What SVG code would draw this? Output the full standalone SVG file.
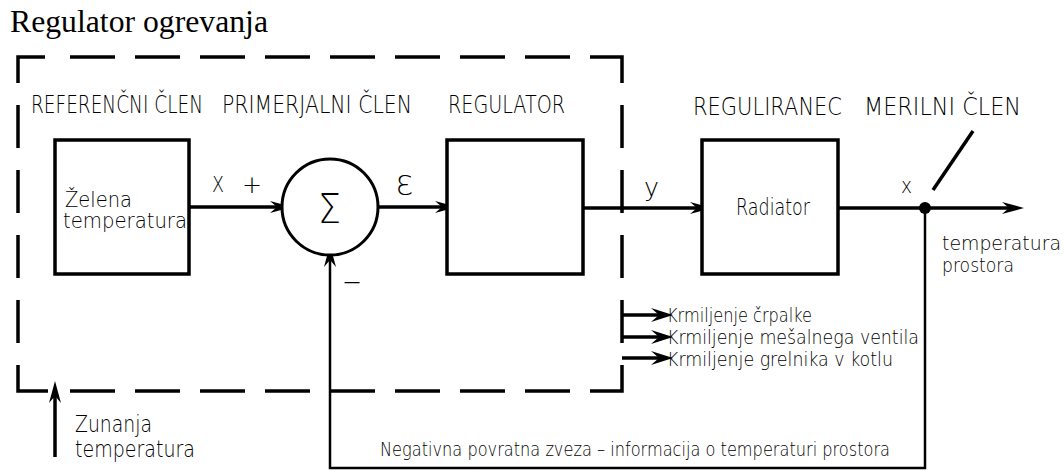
<svg xmlns="http://www.w3.org/2000/svg" width="1064" height="470" viewBox="0 0 1064 470">
<defs>
<style>
.cad{font-family:"DejaVu Sans","Liberation Sans",sans-serif;font-weight:200;fill:#000}
.box{fill:#fff;stroke:#000;stroke-width:3.5}
.ln{fill:none;stroke:#000;stroke-width:3.5}
.fb{fill:none;stroke:#000;stroke-width:2.5}
.dash{fill:none;stroke:#000;stroke-width:3.5;stroke-linecap:butt;stroke-linejoin:miter}
</style>
<marker id="ah" viewBox="-23 -7 24 14" refX="-10" refY="0" markerWidth="24" markerHeight="14" markerUnits="userSpaceOnUse" orient="auto">
<path d="M0,0 L-22,-6 L-15,0 L-22,6 Z" fill="#000"/>
</marker>
<marker id="ahb" viewBox="-23 -8 24 16" refX="-10" refY="0" markerWidth="24" markerHeight="16" markerUnits="userSpaceOnUse" orient="auto">
<path d="M0,0 L-22,-7 L-14,0 L-22,7 Z" fill="#000"/>
</marker>
</defs>
<rect width="1064" height="470" fill="#fff"/>
<text x="10" y="32" font-family="'Liberation Serif','Times New Roman',serif" font-size="31" textLength="258" lengthAdjust="spacingAndGlyphs">Regulator ogrevanja</text>

<g id="regulator-boundary">
<path class="dash" d="M18,83 V57 H45 M70,57 H115 M135,57 H180 M200,57 H245 M265,57 H310 M330,57 H375 M395,57 H440 M460,57 H505 M525,57 H570 M590,57 H622 V83 M622,105 V148 M622,170 V213 M622,235 V278 M622,300 V343 M622,365 V391 H590 M570,391 H525 M505,391 H460 M440,391 H395 M375,391 H330 M310,391 H265 M245,391 H200 M180,391 H135 M115,391 H70 M48,391 H18 V365 M18,343 V300 M18,278 V235 M18,213 V170 M18,148 V105"/>
</g>

<g id="labels">
<text class="cad" x="31" y="113" font-size="25" textLength="172" lengthAdjust="spacingAndGlyphs">REFERENČNI ČLEN</text>
<text class="cad" x="222" y="113" font-size="25" textLength="190" lengthAdjust="spacingAndGlyphs">PRIMERJALNI ČLEN</text>
<text class="cad" x="448" y="113" font-size="25" textLength="117" lengthAdjust="spacingAndGlyphs">REGULATOR</text>
<text class="cad" x="693" y="115" font-size="25" textLength="149" lengthAdjust="spacingAndGlyphs">REGULIRANEC</text>
<text class="cad" x="864" y="115" font-size="25" textLength="157" lengthAdjust="spacingAndGlyphs">MERILNI ČLEN</text>
</g>

<g id="connectors">
<path class="ln" d="M189,207 H282" marker-end="url(#ah)"/>
<path class="ln" d="M378,207 H447" marker-end="url(#ah)"/>
<path class="ln" d="M583,208 H702" marker-end="url(#ah)"/>
<path class="ln" d="M838,208 H1014" marker-end="url(#ah)"/>
<path class="fb" d="M925,208 V468 H330 V255" marker-end="url(#ah)"/>
<path class="ln" d="M933,190 L973,131"/>
<path class="ln" d="M55,457 V391" marker-end="url(#ah)"/>
<path class="ln" d="M622,315 H663" marker-end="url(#ahb)"/>
<path class="ln" d="M622,337 H663" marker-end="url(#ahb)"/>
<path class="ln" d="M622,358 H663" marker-end="url(#ahb)"/>
<circle cx="925" cy="208" r="6" fill="#000"/>
<text class="cad" x="212" y="192" font-size="21" textLength="12" lengthAdjust="spacingAndGlyphs">X</text>
<text class="cad" x="242" y="193" font-size="24" textLength="20" lengthAdjust="spacingAndGlyphs">+</text>
<text class="cad" x="396" y="195" font-size="27" textLength="17" lengthAdjust="spacingAndGlyphs">Ɛ</text>
<text class="cad" x="644" y="196" font-size="25" textLength="15" lengthAdjust="spacingAndGlyphs">y</text>
<text class="cad" x="901" y="193" font-size="22" textLength="11" lengthAdjust="spacingAndGlyphs">x</text>
<text class="cad" x="342" y="291" font-size="26" textLength="20" lengthAdjust="spacingAndGlyphs">−</text>
<text class="cad" x="380" y="456" font-size="20" textLength="510" lengthAdjust="spacingAndGlyphs">Negativna povratna zveza – informacija o temperaturi prostora</text>
</g>

<g id="zelena-temperatura">
<rect class="box" x="55" y="140" width="134" height="134"/>
<text class="cad" x="65" y="207" font-size="21" textLength="67" lengthAdjust="spacingAndGlyphs">Želena</text>
<text class="cad" x="63" y="228" font-size="21" textLength="124" lengthAdjust="spacingAndGlyphs">temperatura</text>
</g>

<g id="primerjalni-clen">
<circle cx="330" cy="207" r="48" fill="#fff" stroke="#000" stroke-width="3"/>
<text class="cad" x="318" y="223" font-size="41" textLength="23" lengthAdjust="spacingAndGlyphs">Σ</text>
</g>

<g id="regulator">
<rect class="box" x="447" y="140" width="136" height="134"/>
</g>

<g id="radiator">
<rect class="box" x="702" y="140" width="136" height="134"/>
<text class="cad" x="736" y="215" font-size="23" textLength="74" lengthAdjust="spacingAndGlyphs">Radiator</text>
</g>

<g id="temperatura-prostora">
<text class="cad" x="942" y="250" font-size="20" textLength="119" lengthAdjust="spacingAndGlyphs">temperatura</text>
<text class="cad" x="942" y="272" font-size="20" textLength="72" lengthAdjust="spacingAndGlyphs">prostora</text>
</g>

<g id="zunanja-temperatura">
<text class="cad" x="75" y="432" font-size="23" textLength="77" lengthAdjust="spacingAndGlyphs">Zunanja</text>
<text class="cad" x="75" y="457" font-size="23" textLength="120" lengthAdjust="spacingAndGlyphs">temperatura</text>
</g>

<g id="krmiljenje">
<text class="cad" x="667" y="322" font-size="20" textLength="145" lengthAdjust="spacingAndGlyphs">Krmiljenje črpalke</text>
<text class="cad" x="667" y="344" font-size="20" textLength="252" lengthAdjust="spacingAndGlyphs">Krmiljenje mešalnega ventila</text>
<text class="cad" x="667" y="366" font-size="20" textLength="226" lengthAdjust="spacingAndGlyphs">Krmiljenje grelnika v kotlu</text>
</g>
</svg>
